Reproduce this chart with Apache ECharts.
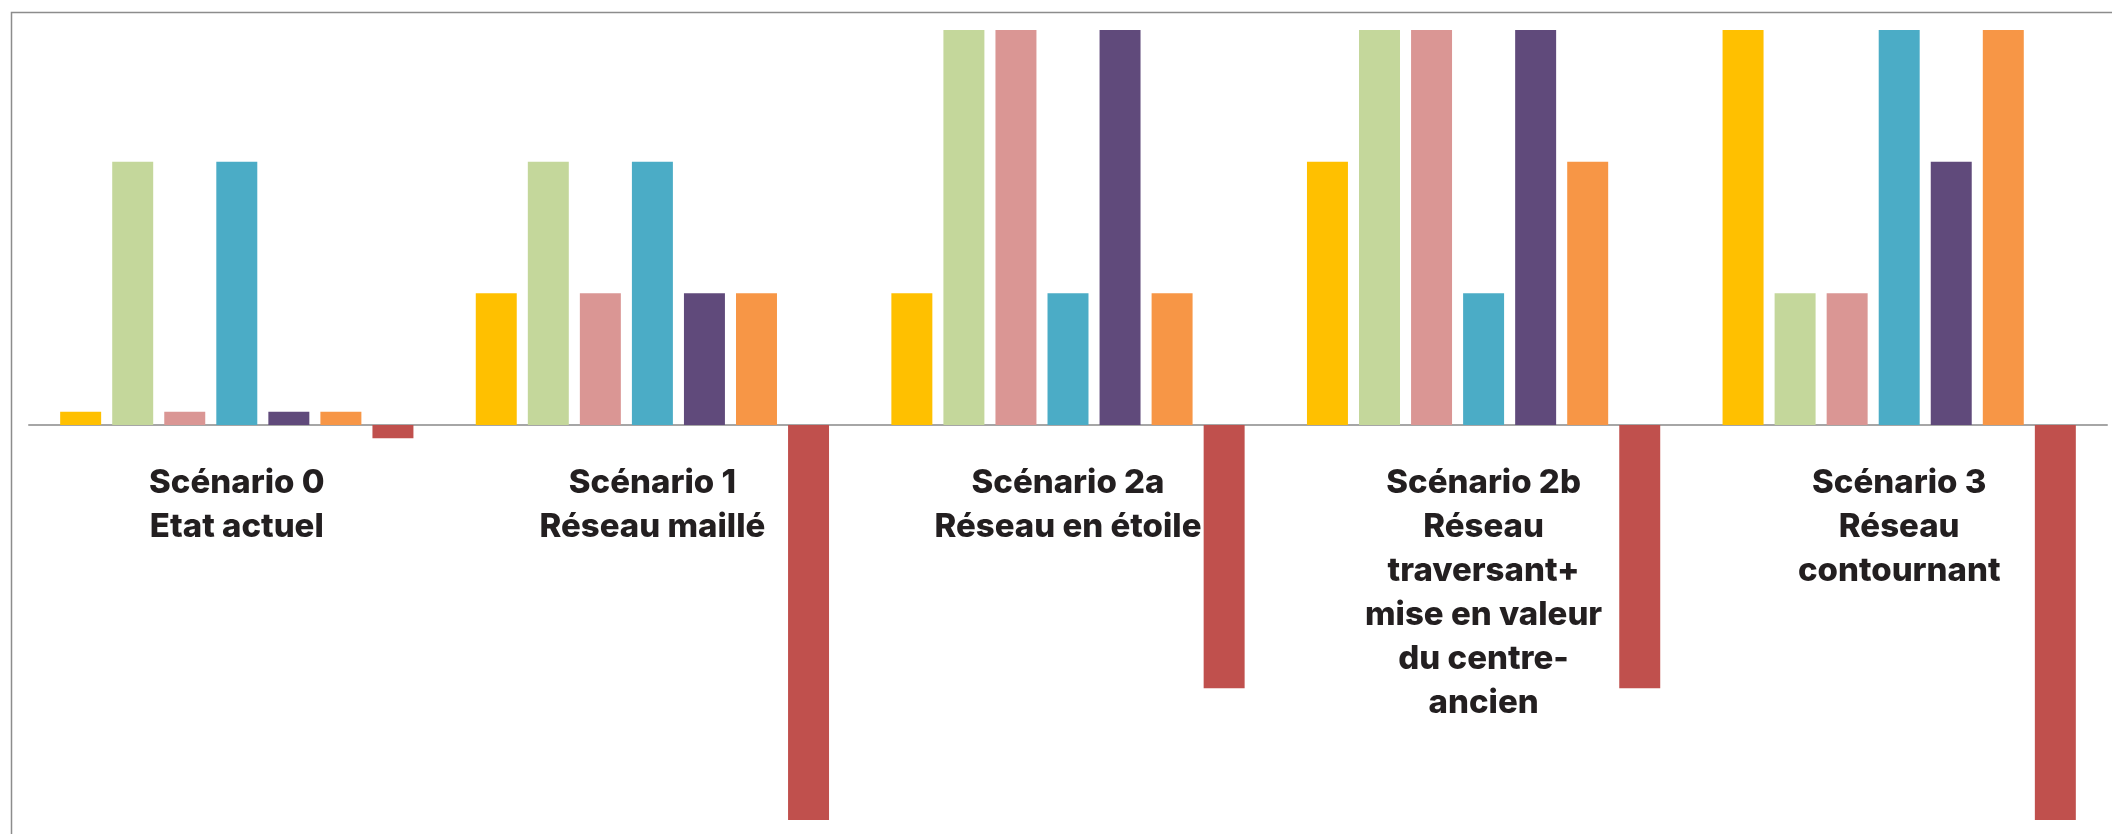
<!DOCTYPE html>
<html lang="fr">
<head>
	<meta charset="UTF-8">
	<title>Scénarios</title>
	<style>
		html, body { margin: 0; padding: 0; background: #fff; }
	</style>
</head>
<body>
	<div id="chart" style="width:2112px;height:834px;"></div>
	<script src="https://cdn.jsdelivr.net/npm/echarts@6/dist/echarts.min.js"></script>
	<script>
		// categories (axe x)
		const categories = [
			'Scénario 0\nEtat actuel',
			'Scénario 1\nRéseau maillé',
			'Scénario 2a\nRéseau en étoile',
			'Scénario 2b\nRéseau\ntraversant+\nmise en valeur\ndu centre-\nancien',
			'Scénario 3\nRéseau\ncontournant'
		];

		// valeurs par critère (une série par couleur)
		const serieJaune  = [0.1, 1, 1, 2, 3];
		const serieVert   = [2, 2, 3, 3, 1];
		const serieRose   = [0.1, 1, 3, 3, 1];
		const serieBleu   = [2, 2, 1, 1, 3];
		const serieViolet = [0.1, 1, 3, 3, 2];
		const serieOrange = [0.1, 1, 1, 2, 3];
		const serieRouge  = [-0.1, -3, -2, -2, -3];

		const couleurs = ['#ffc000', '#c4d79b', '#da9694', '#4bacc6', '#604a7b', '#f79646', '#c0504d'];
		const toutes = [serieJaune, serieVert, serieRose, serieBleu, serieViolet, serieOrange, serieRouge];

		let myChart = echarts.init(document.getElementById('chart'));

		let series = toutes.map(function (data, i) {
			return {
				name: 'Série ' + (i + 1),
				type: 'bar',
				data: data,
				barGap: '27%',
				barCategoryGap: '15%',
				itemStyle: { color: couleurs[i] }
			};
		});

		// libellés des scénarios posés sous la ligne du zéro
		series.push({
			name: 'libelles',
			type: 'scatter',
			symbolSize: 0,
			silent: true,
			z: 5,
			itemStyle: { opacity: 1, color: '#231f20' },
			data: categories.map(function (c) { return [c, 0]; }),
			label: {
				show: true,
				position: 'bottom',
				distance: 36,
				formatter: function (p) { return categories[p.dataIndex]; },
				color: '#231f20',
				opacity: 1,
				fontFamily: 'Inter',
				fontWeight: 800,
				fontSize: 33,
				lineHeight: 44,
				align: 'center'
			}
		});

		myChart.setOption({
			animation: false,
			backgroundColor: '#fff',
			// cadre gris (bords droit et bas coupés comme sur l'original)
			graphic: [{
				type: 'rect',
				left: 9,
				top: 10,
				shape: { width: 2200, height: 900 },
				style: { fill: 'none', stroke: '#8c8c8c', lineWidth: 1.5 },
				silent: true,
				z: -1
			}],
			grid: { left: 29, right: 5, top: 30, bottom: 14, containLabel: false },
			xAxis: {
				type: 'category',
				data: categories,
				axisLine: { onZero: true, lineStyle: { color: '#a6a6a6', width: 2 } },
				axisTick: { show: false },
				axisLabel: { show: false }
			},
			yAxis: {
				type: 'value',
				min: -3,
				max: 3,
				interval: 1,
				show: false,
				splitLine: { show: false }
			},
			series: series
		});
	</script>
</body>
</html>
